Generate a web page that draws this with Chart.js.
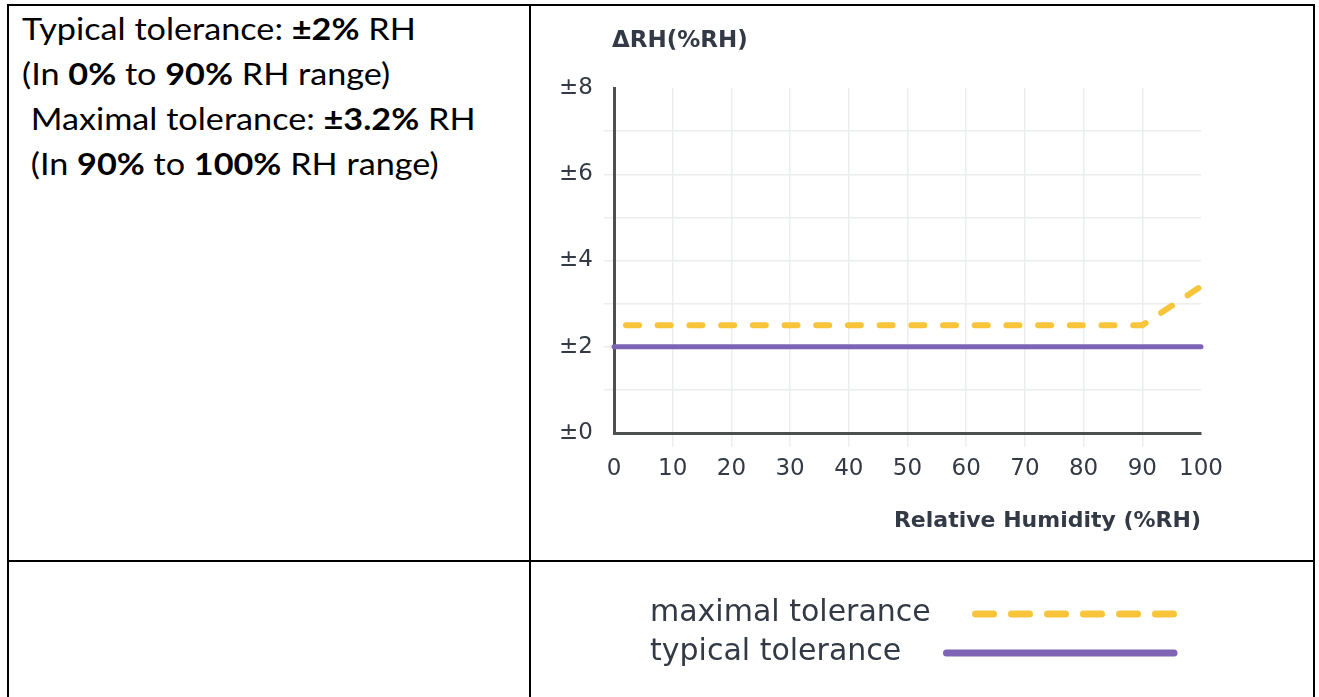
<!DOCTYPE html>
<html>
<head>
<meta charset="utf-8">
<script src="https://cdn.jsdelivr.net/npm/chart.js@4.4.1/dist/chart.umd.min.js"></script>
<style>
  body { margin: 0; background: #fff; }
  #page { position: relative; width: 1319px; height: 697px; overflow: hidden; background: #fff; }
  .rule { position: absolute; background: #000; z-index: 2; }
  #notes {
    position: absolute; left: 22px; top: 6px;
    font-family: Lato, "Liberation Sans", sans-serif; font-size: 30px; line-height: 45px;
    color: #000; white-space: pre;
    transform: scaleX(1.14); transform-origin: left top;
  }
  #notes b { font-weight: 700; }
  #chartBox { position: absolute; left: 531px; top: 6px; width: 782px; height: 691px; }
</style>
</head>
<body>
<div id="page">
  <div class="rule" style="left:7px; top:4px; width:1308px; height:2px;"></div>
  <div class="rule" style="left:7px; top:4px; width:2px; height:693px;"></div>
  <div class="rule" style="left:529px; top:4px; width:2px; height:693px;"></div>
  <div class="rule" style="left:1313px; top:4px; width:2px; height:693px;"></div>
  <div class="rule" style="left:7px; top:560px; width:1308px; height:2px;"></div>

  <div id="notes">Typical tolerance: <b>±2%</b> RH
(In <b>0%</b> to <b>90%</b> RH range)
 Maximal tolerance: <b>±3.2%</b> RH
 (In <b>90%</b> to <b>100%</b> RH range)</div>

  <div id="chartBox"><canvas id="toleranceChart"></canvas></div>
</div>

<script>
  // values
  const humidity = [0, 90, 100];
  const maximalTolerance = [2.5, 2.5, 3.4];
  const typicalTolerance = [2, 2, 2];
  const xTickValues = [0, 10, 20, 30, 40, 50, 60, 70, 80, 90, 100];
  const yTickLabels = ["±0", "", "±2", "", "±4", "", "±6", "", "±8"];

  const textColor = "#333a45";
  const axisColor = "#4b5050";
  const gridColor = "#eceeee";
  const chartFont = "'DejaVu Sans', sans-serif";

  const toPoints = (ys) => humidity.map((x, i) => ({ x: x, y: ys[i] }));

  // hide grid line + tick mark at the ends of each axis
  function gridFor(ends) {
    return (ctx) => (ctx.tick && ends.includes(ctx.tick.value)) ? "rgba(0,0,0,0)" : gridColor;
  }

  // y axis title sits horizontally above the axis
  const yTitlePlugin = {
    id: "yTitle",
    afterDraw(chart) {
      const t = chart.options.scales.y.title;
      const ctx = chart.ctx;
      ctx.save();
      ctx.font = "bold 23px " + chartFont;
      ctx.fillStyle = textColor;
      ctx.textBaseline = "middle";
      ctx.textAlign = "left";
      ctx.fillText(t.text, chart.chartArea.left - 2, 35);
      ctx.restore();
    }
  };

  // legend below the chart: label on the left, line sample on the right
  const sideLegend = {
    id: "sideLegend",
    afterDraw(chart) {
      const ctx = chart.ctx;
      const rows = [
        { y: 607, lineStart: 441 },
        { y: 646, lineStart: 412 }
      ];
      chart.data.datasets.forEach((ds, i) => {
        const r = rows[i];
        ctx.save();
        ctx.font = "30px " + chartFont;
        ctx.fillStyle = textColor;
        ctx.textBaseline = "middle";
        ctx.fillText(ds.label, 119, r.y);
        ctx.strokeStyle = ds.borderColor;
        ctx.lineWidth = 7;
        ctx.lineCap = "round";
        ctx.setLineDash(ds.borderDash ? [18, 18] : []);
        ctx.beginPath();
        ctx.moveTo(r.lineStart + 3.5, r.y + 1);
        ctx.lineTo(643, r.y + 1);
        ctx.stroke();
        ctx.restore();
      });
    }
  };

  new Chart(document.getElementById("toleranceChart"), {
    type: "line",
    data: {
      datasets: [
        {
          label: "maximal tolerance",
          data: toPoints(maximalTolerance),
          borderColor: "#f8c53a",
          borderWidth: 6,
          borderDash: [13, 18.7],
          borderDashOffset: 19.7,
          borderCapStyle: "round",
          borderJoinStyle: "round",
          pointRadius: 0,
          tension: 0
        },
        {
          label: "typical tolerance",
          data: toPoints(typicalTolerance),
          borderColor: "#7d64b5",
          borderWidth: 5,
          borderCapStyle: "round",
          pointRadius: 0,
          tension: 0
        }
      ]
    },
    options: {
      responsive: true,
      maintainAspectRatio: false,
      animation: false,
      clip: false,
      layout: { padding: { left: 0, top: 82, right: 112, bottom: 159 } },
      plugins: { legend: { display: false }, tooltip: { enabled: false } },
      scales: {
        x: {
          type: "linear",
          min: 0,
          max: 100,
          afterFit: (s) => { s.height = 105; },
          afterBuildTicks: (s) => { s.ticks = xTickValues.map((v) => ({ value: v })); },
          grid: { color: gridFor([0, 100]), lineWidth: 1.5, tickLength: 14 },
          border: { color: axisColor, width: 3 },
          ticks: { color: textColor, padding: 8, font: { family: chartFont, size: 23 } },
          title: {
            display: true,
            text: "Relative Humidity (%RH)",
            align: "end",
            color: textColor,
            font: { family: chartFont, size: 22, weight: "bold" }
          }
        },
        y: {
          min: 0,
          max: 8,
          afterFit: (s) => { s.width = 83; },
          grid: { color: gridFor([0, 8]), lineWidth: 1.5, tickLength: 10 },
          border: { color: axisColor, width: 3 },
          ticks: {
            stepSize: 1,
            color: textColor,
            padding: 11,
            font: { family: chartFont, size: 23 },
            callback: (v) => yTickLabels[v]
          },
          title: { display: false, text: "ΔRH(%RH)" }
        }
      }
    },
    plugins: [yTitlePlugin, sideLegend]
  });
</script>
</body>
</html>
